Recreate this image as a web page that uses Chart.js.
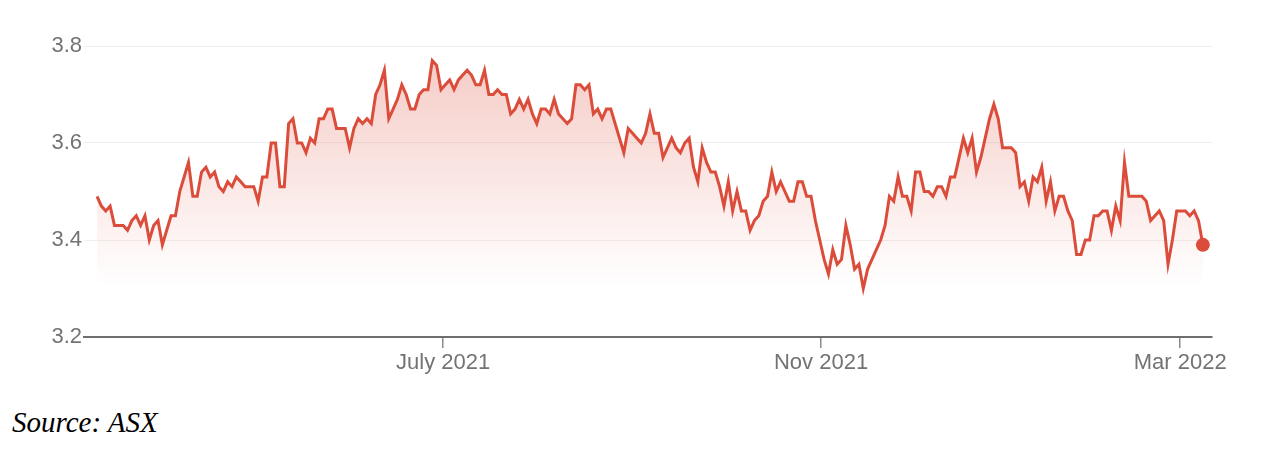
<!DOCTYPE html>
<html>
<head>
<meta charset="utf-8">
<script src="https://cdn.jsdelivr.net/npm/chart.js@4.4.0/dist/chart.umd.min.js"></script>
<style>
  html, body { margin: 0; padding: 0; background: #fff; }
  #wrap { position: relative; width: 1264px; height: 390px; }
  #source {
    position: absolute; left: 12px; top: 408px;
    font: italic 29px "Liberation Serif", "Times New Roman", serif;
    line-height: 29px; color: #000;
  }
</style>
</head>
<body>
<div id="wrap"><canvas id="chart" width="1264" height="390"></canvas></div>
<div id="source">Source: ASX</div>
<script>
// daily closing price, Mar 2021 - Mar 2022
const prices = [
  3.49, 3.47, 3.46, 3.47, 3.43, 3.43, 3.43, 3.42, 3.44, 3.45, 3.43, 3.45, 3.40, 3.43, 3.44, 3.39, 3.42, 3.45, 3.45, 3.50,
  3.53, 3.56, 3.49, 3.49, 3.54, 3.55, 3.53, 3.54, 3.51, 3.50, 3.52, 3.51, 3.53, 3.52, 3.51, 3.51, 3.51,
  3.48, 3.53, 3.53, 3.60, 3.60, 3.51, 3.51, 3.64, 3.65, 3.60, 3.60, 3.58, 3.61, 3.60, 3.65, 3.65, 3.67, 3.67, 3.63, 3.63,
  3.63, 3.59, 3.63, 3.65, 3.64, 3.65, 3.64, 3.70, 3.72, 3.75, 3.65, 3.67, 3.69, 3.72, 3.70, 3.67,
  3.67, 3.70, 3.71, 3.71, 3.77, 3.76, 3.71, 3.72, 3.73, 3.71, 3.73, 3.74, 3.75, 3.74, 3.72, 3.72, 3.75, 3.70, 3.70, 3.71,
  3.70, 3.70, 3.66, 3.67, 3.69, 3.67, 3.69, 3.66, 3.64, 3.67, 3.67, 3.66, 3.69, 3.66, 3.65, 3.64, 3.65,
  3.72, 3.72, 3.71, 3.72, 3.66, 3.67, 3.65, 3.67, 3.67, 3.64, 3.61, 3.58, 3.63, 3.62, 3.61, 3.60, 3.62, 3.66, 3.62, 3.62,
  3.57, 3.59, 3.61, 3.59, 3.58, 3.60, 3.61, 3.55, 3.52, 3.59, 3.56, 3.54, 3.54, 3.51, 3.47, 3.52, 3.46,
  3.50, 3.46, 3.46, 3.42, 3.44, 3.45, 3.48, 3.49, 3.54, 3.50, 3.52, 3.50, 3.48, 3.48, 3.52, 3.52, 3.49, 3.49, 3.44, 3.40,
  3.36, 3.33, 3.38, 3.35, 3.36, 3.43, 3.39, 3.34, 3.35, 3.30, 3.34, 3.36, 3.38, 3.40, 3.43, 3.49,
  3.48, 3.53, 3.49, 3.49, 3.46, 3.54, 3.54, 3.50, 3.50, 3.49, 3.51, 3.51, 3.49, 3.53, 3.53, 3.57, 3.61, 3.58, 3.61, 3.54,
  3.57, 3.61, 3.65, 3.68, 3.65, 3.59, 3.59, 3.59, 3.58, 3.51, 3.52, 3.48, 3.53, 3.52, 3.55, 3.48, 3.52,
  3.46, 3.49, 3.49, 3.46, 3.44, 3.37, 3.37, 3.40, 3.40, 3.45, 3.45, 3.46, 3.46, 3.42, 3.47, 3.44, 3.56, 3.49, 3.49, 3.49,
  3.49, 3.48, 3.44, 3.45, 3.46, 3.44, 3.35, 3.40, 3.46, 3.46, 3.46, 3.45, 3.46, 3.44, 3.39
];
// month ticks, in trading-day positions
const tickDays = [79.5, 166.3, 248.8];
const tickLabels = ["July 2021", "Nov 2021", "Mar 2022"];
const yMin = 3.2;
const yMax = 3.8;
const yStep = 0.2;

const red = "#dc4c3a";
const fontFamily = '"Liberation Sans", Arial, Helvetica, sans-serif';
const tickColor = "#737373";

function fillGradient(context) {
  let chart = context.chart;
  let area = chart.chartArea;
  if (!area) return "rgba(220,76,58,0.1)";
  let g = chart.ctx.createLinearGradient(0, area.top, 0, area.top + 240);
  g.addColorStop(0, "rgba(220,76,58,0.30)");
  g.addColorStop(1, "rgba(220,76,58,0)");
  return g;
}

let lastIndex = prices.length - 1;

new Chart(document.getElementById("chart"), {
  type: "line",
  data: {
    datasets: [
      {
        data: prices.map((v, i) => ({ x: i, y: v })),
        borderColor: red,
        borderWidth: 3,
        backgroundColor: fillGradient,
        fill: "start",
        tension: 0,
        pointRadius: (c) => (c.dataIndex === lastIndex ? 7 : 0),
        pointBackgroundColor: red,
        pointBorderWidth: 0,
        clip: false,
      },
    ],
  },
  options: {
    responsive: false,
    animation: false,
    layout: { padding: { top: 46, right: 52, left: 0, bottom: 0 } },
    plugins: { legend: { display: false }, tooltip: { enabled: false } },
    scales: {
      x: {
        type: "linear",
        min: -3,
        max: lastIndex + 2.1,
        afterBuildTicks: (scale) => {
          scale.ticks = tickDays.map((d) => ({ value: d }));
        },
        afterFit: (scale) => {
          scale.height = 53;
        },
        ticks: {
          autoSkip: false,
          maxRotation: 0,
          padding: 2,
          color: tickColor,
          font: { family: fontFamily, size: 22 },
          callback: (v, i) => tickLabels[i],
        },
        grid: {
          drawOnChartArea: false,
          drawTicks: true,
          tickLength: 11,
          color: "#8a8a8a",
          lineWidth: 1.5,
        },
        border: { display: true, color: "#6e6e6e", width: 2 },
      },
      y: {
        min: yMin,
        max: yMax,
        afterFit: (scale) => {
          scale.width = 84;
        },
        ticks: {
          stepSize: yStep,
          padding: 2,
          color: tickColor,
          font: { family: fontFamily, size: 22 },
          callback: (v) => v.toFixed(1),
        },
        grid: {
          drawTicks: false,
          color: (c) => (c.tick && c.tick.value <= yMin ? "rgba(0,0,0,0)" : "#efefef"),
          lineWidth: 1,
        },
        border: { display: false },
      },
    },
  },
});
</script>
</body>
</html>
